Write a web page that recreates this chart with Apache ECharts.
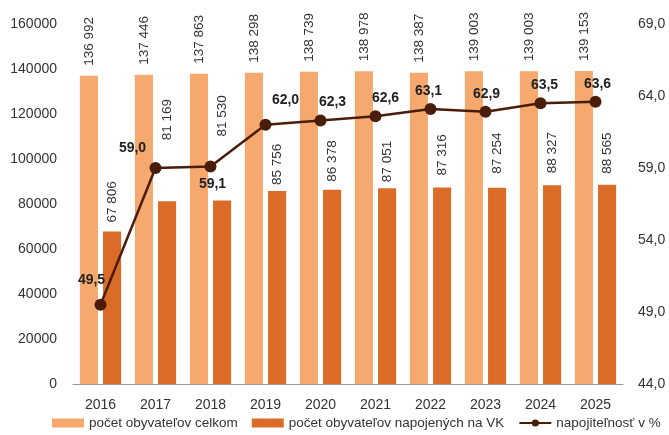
<!DOCTYPE html>
<html>
<head>
<meta charset="utf-8">
<script src="https://cdn.jsdelivr.net/npm/echarts@6/dist/echarts.min.js"></script>
<style>html,body{margin:0;padding:0;background:#fff}#c{width:669px;height:435px}</style>
</head>
<body>
<div id="c"></div>
<script>
const years = ['2016','2017','2018','2019','2020','2021','2022','2023','2024','2025'];
const totalPop = [136992,137446,137863,138298,138739,138978,138387,139003,139003,139153];
const connectedPop = [67806,81169,81530,85756,86378,87051,87316,87254,88327,88565];
const connectPct = [49.5,59.0,59.1,62.0,62.3,62.6,63.1,62.9,63.5,63.6];
const seriesNames = ['počet obyvateľov celkom','počet obyvateľov napojených na VK','napojiteľnosť v %'];

// label placement tweaks (style only)
const darkLabelGap = [9,61,64,6,8,6,12,14,12,11];
const pctLabelPos = ['top','top','bottom','top','top','top','top','top','top','top'];
const pctLabelOffset = [[-9,-7],[-23,-2],[2,0],[20,-7],[12,0],[10,0],[-2,0],[1,0],[4,0],[2,0]];

const FONT = '"Liberation Sans", Arial, sans-serif';
const fmtThousands = v => String(v).replace(/\B(?=(\d{3})+(?!\d))/g, ' ');
const fmtPct = v => v.toFixed(1).replace('.', ',');

const chart = echarts.init(document.getElementById('c'), null, {renderer:'canvas'});
chart.setOption({
  animation: false,
  textStyle: {fontFamily: FONT},
  grid: {left: 73, right: 46, top: 24, bottom: 51},
  legend: {
    left: 52, top: 416, width: 630, itemWidth: 32, itemHeight: 9, itemGap: 14,
    padding: 0,
    textStyle: {fontSize: 13.5, color: '#333', fontFamily: FONT},
    data: [
      {name: seriesNames[0], icon: 'rect'},
      {name: seriesNames[1], icon: 'rect'},
      {name: seriesNames[2]}
    ]
  },
  xAxis: {
    type: 'category', data: years,
    axisLine: {lineStyle: {color: '#9a9a9a', width: 1}},
    axisTick: {show: false},
    axisLabel: {fontSize: 14, color: '#333', margin: 14, fontFamily: FONT}
  },
  yAxis: [
    {type: 'value', min: 0, max: 160000, interval: 20000,
     splitLine: {show: false}, axisLine: {show: false}, axisTick: {show: false},
     axisLabel: {fontSize: 14, color: '#333', margin: 16, fontFamily: FONT, formatter: v => String(v)}},
    {type: 'value', min: 44, max: 69, interval: 5,
     splitLine: {show: false}, axisLine: {show: false}, axisTick: {show: false},
     axisLabel: {fontSize: 14, color: '#333', margin: 15, fontFamily: FONT, formatter: v => fmtPct(v)}}
  ],
  series: [
    {
      name: seriesNames[0], type: 'bar', data: totalPop,
      barGap: '28%', barCategoryGap: '25%',
      itemStyle: {color: '#F6A96E'},
      label: {show: true, position: 'top', rotate: 90, align: 'left', verticalAlign: 'middle',
              distance: 10, fontSize: 13.5, color: '#333', fontFamily: FONT,
              formatter: p => fmtThousands(p.value)}
    },
    {
      name: seriesNames[1], type: 'bar',
      data: connectedPop.map((v, i) => ({value: v, label: {distance: darkLabelGap[i]}})),
      itemStyle: {color: '#DB6C28'},
      label: {show: true, position: 'top', rotate: 90, align: 'left', verticalAlign: 'middle',
              distance: 9, fontSize: 13.5, color: '#333', fontFamily: FONT,
              formatter: p => fmtThousands(p.value)}
    },
    {
      name: seriesNames[2], type: 'line', yAxisIndex: 1, z: 5,
      data: connectPct.map((v, i) => ({value: v, label: {position: pctLabelPos[i], offset: pctLabelOffset[i]}})),
      lineStyle: {color: '#4A1D0B', width: 2.5},
      itemStyle: {color: '#4A1D0B'},
      symbol: 'circle', symbolSize: 12,
      label: {show: true, fontSize: 14, fontWeight: 'bold', color: '#222', fontFamily: FONT,
              formatter: p => fmtPct(p.value)}
    }
  ]
});
</script>
</body>
</html>
